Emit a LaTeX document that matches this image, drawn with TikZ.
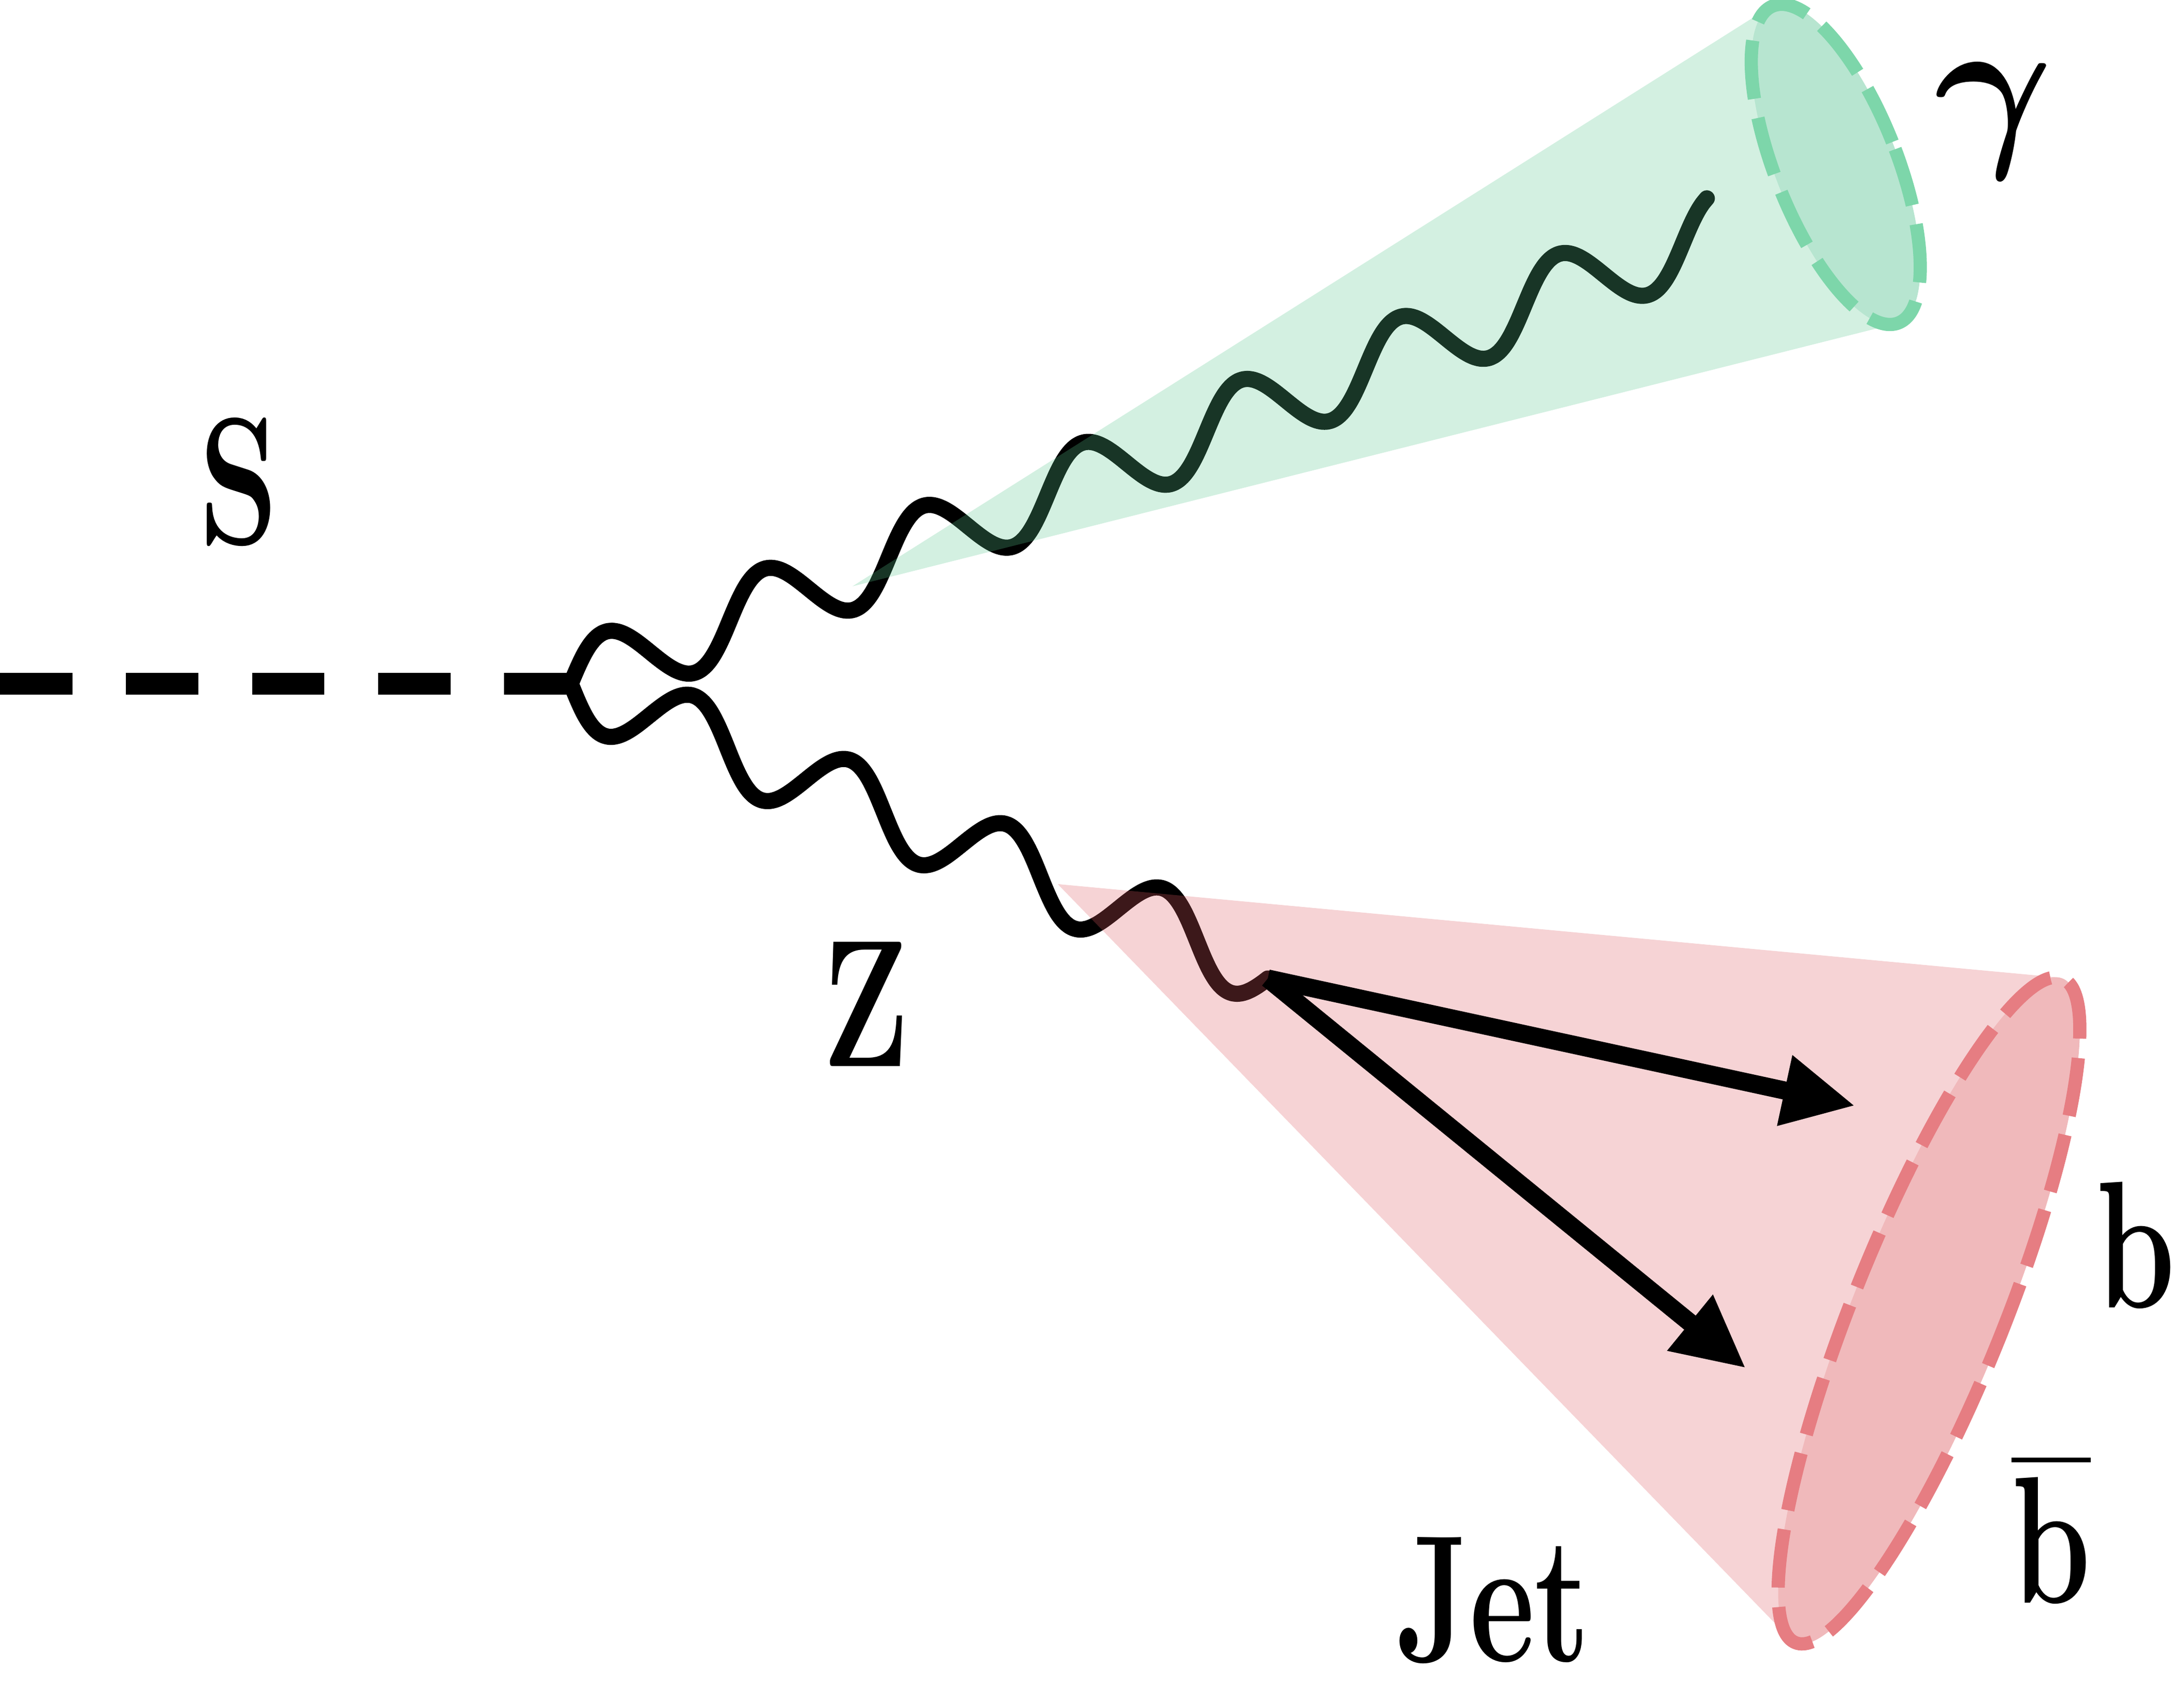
\RequirePackage{fix-cm}
\documentclass[tikz,border=0pt]{standalone}
\usepackage{amsmath}
\usepackage{graphicx}
\usepackage{tikz}
\usetikzlibrary{arrows.meta}
\definecolor{gammagreen}{RGB}{92,199,144}
\definecolor{gammadisc}{RGB}{183,229,208}
\definecolor{gammaedge}{RGB}{125,214,170}
\definecolor{jetred}{RGB}{222,92,99}
\definecolor{jetdisc}{RGB}{240,185,187}
\definecolor{jetedge}{RGB}{230,125,130}
\newcommand{\thinlbl}[1]{\scalebox{0.7}[1]{#1}}

\begin{document}
\begin{tikzpicture}[
    wave/.style={black, line width=3.3pt, line join=round, line cap=round},
    scalar/.style={black, line width=4.4pt, dash pattern=on 0.52cm off 0.385cm},
    rim/.style={line width=2.7pt, dash pattern=on 0.42cm off 0.14cm},
    quark/.style={black, line width=3.7pt, -{Triangle[length=0.52cm, width=0.48cm]}},
    lbl/.style={inner sep=0pt, font=\fontsize{37}{44}\selectfont\bfseries}]
    \useasboundingbox (0,0) rectangle (15.68,12.19);
    \coordinate (sin) at (0,7.281);
    \coordinate (vertex) at (4.098,7.281);
    \draw[scalar] (sin) -- (vertex);
    \begin{scope}[shift={(vertex)}, yscale=1.5, rotate=14.8]
        \draw[wave] plot[domain=0:8.48, samples=240, smooth] (\x, {0.177*sin(360*\x/1.18)});
    \end{scope}
    \begin{scope}[shift={(vertex)}, yscale=1.5, rotate=-15.3]
        \draw[wave] plot[domain=0:5.20, samples=160, smooth] (\x, {-0.177*sin(360*\x/1.165)}) coordinate (zend);
    \end{scope}
    \coordinate (gapex) at (6.12,7.98);
    \coordinate (gtop) at (12.70,12.135);
    \coordinate (gbot) at (13.61,9.866);
    \coordinate (gc) at (13.18,11.01);
    \fill[gammagreen, fill opacity=0.27] (gapex) -- (gbot) -- (gtop) -- cycle;
    \fill[gammadisc, rotate around={21.6:(gc)}] (gc) ellipse (0.437 and 1.224);
    \draw[rim, gammaedge, rotate around={21.6:(gc)}] (gc) ellipse (0.437 and 1.224);
    \coordinate (rapex) at (7.594,5.842);
    \coordinate (rtop) at (14.775,5.172);
    \coordinate (rbot) at (12.85,0.425);
    \coordinate (rc) at (13.85,2.78);
    \fill[jetred, fill opacity=0.27] (rapex) -- (rbot) -- (rtop) -- cycle;
    \fill[jetdisc, rotate around={-21.9:(rc)}] (rc) ellipse (0.543 and 2.57);
    \draw[rim, jetedge, rotate around={-21.9:(rc)}] (rc) ellipse (0.543 and 2.57);
    \coordinate (bq) at (13.321,4.250);
    \coordinate (bbarq) at (12.536,2.365);
    \draw[quark] (zend) -- (bq);
    \draw[quark] (zend) -- (bbarq);
    \node[lbl] (slabel) at (1.714,8.73) {\thinlbl{S}};
    \node[lbl] (glabel) at (14.314,11.32) {$\boldsymbol{\gamma}$};
    \node[lbl] (zlabel) at (6.218,4.98) {\thinlbl{Z}};
    \node[lbl] (blabel) at (15.333,3.25) {\thinlbl{b}};
    \node[lbl] (bbarlabel) at (14.727,1.22) {\thinlbl{$\overline{\mathbf{b}}$}};
    \node[lbl] (jetlabel) at (10.72,0.70) {\thinlbl{Jet}};
\end{tikzpicture}
\end{document}
